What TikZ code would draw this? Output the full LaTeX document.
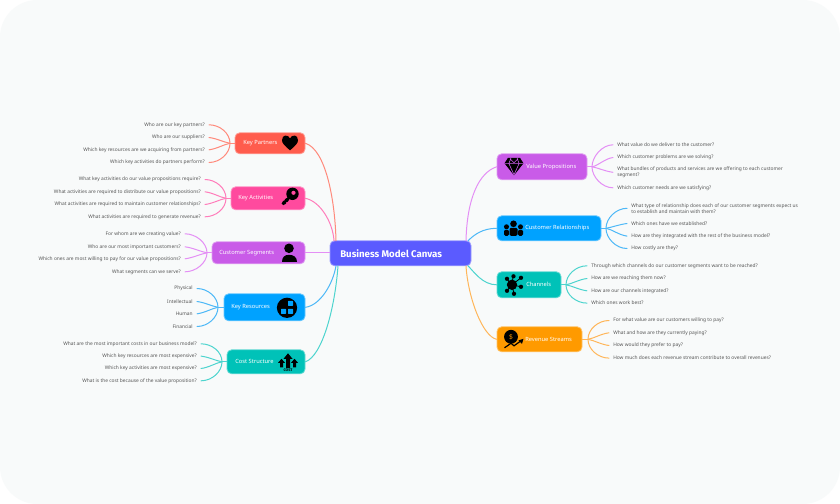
\documentclass[tikz,border=0pt]{standalone}
\usepackage{fontspec}
\setmainfont{Noto Sans}
\newfontfamily\cenfont{Fira Sans}
\usetikzlibrary{calc}
\definecolor{bgc}{HTML}{F8FAFA}
\definecolor{txtc}{HTML}{555555}
\definecolor{cred}{HTML}{FF5C4D}\definecolor{lred}{HTML}{FF8A7C}
\definecolor{cpink}{HTML}{FF4A9E}\definecolor{lpink}{HTML}{FF7DBB}
\definecolor{cpur}{HTML}{C95BE8}\definecolor{lpur}{HTML}{E48FF5}
\definecolor{cblue}{HTML}{00A2FF}\definecolor{lblue}{HTML}{4DB8F7}
\definecolor{cteal}{HTML}{00C2B8}\definecolor{lteal}{HTML}{4DD4CE}
\definecolor{corg}{HTML}{FF9A00}\definecolor{lorg}{HTML}{FFB65A}
\definecolor{cmain}{HTML}{5B5BFF}
\tikzset{
  boxn/.style={rounded corners=3.5pt,minimum width=#1,inner sep=0pt,line width=.6pt},
  lab/.style={text=white,font=\fontsize{4.3}{5}\selectfont,inner sep=0pt,anchor=west},
  ql/.style={text=txtc,font=\fontsize{3.65}{4.6}\selectfont,inner xsep=3pt,inner ysep=0pt,anchor=east,align=right},
  qr/.style={text=txtc,font=\fontsize{3.65}{4.6}\selectfont,inner xsep=3pt,inner ysep=0pt,anchor=west,align=left},
  link/.style={line width=.75pt,line cap=round},
  ico/.style={fill=black,draw=none}
}
\newcommand{\bx}[7]{\node[boxn=#4*0.75pt,minimum height=#5*0.75pt,fill=#6,draw=#6!60!white] (#1) at (#2,#3) {};}
\newcommand{\fanL}[6]{\foreach \n/\p/\q/\r/\s in {#2/0/-10/11/0,#3/-6/-1/8/1,#4/-6/1/8/-1,#5/0/10/11/0}{\draw[link,#6] (#1) .. controls +(\p,\q) and +(\r,\s) .. (\n.east);}}
\newcommand{\fanR}[6]{\foreach \n/\p/\q/\r/\s in {#2/0/-10/-11/0,#3/6/-1/-8/1,#4/6/1/-8/-1,#5/0/10/-11/0}{\draw[link,#6] (#1) .. controls +(\p,\q) and +(\r,\s) .. (\n.west);}}
\begin{document}
\begin{tikzpicture}[x=0.75pt,y=-0.75pt]
\useasboundingbox (0,0) rectangle (840,504);
\fill[white] (0,0) rectangle (840,504);
\fill[bgc,rounded corners=28pt] (0,0) rectangle (840,504);
\begin{scope}[yshift=-0.6pt]
% boxes
\bx{kp}{270}{142.5}{70}{21}{cred}{}
\bx{ka}{268}{197.5}{74}{23}{cpink}{}
\bx{cs}{258.5}{252}{93}{22}{cpur}{}
\bx{kr}{264.5}{306.5}{81}{27}{cblue}{}
\bx{cost}{266}{361}{78}{24}{cteal}{}
\bx{vp}{542}{166}{90}{26}{cpur}{}
\bx{cr}{549}{227.5}{104}{25}{cblue}{}
\bx{ch}{529}{284}{64}{26}{cteal}{}
\bx{rs}{539.5}{338.5}{85}{25}{corg}{}
\bx{cen}{400.5}{252.5}{141}{25}{cmain}{}

% box labels
\node[lab,font=\fontsize{7.25}{8}\selectfont\cenfont\bfseries] (tcen) at (340,252.5) {Business Model Canvas};
\node[lab] (tkp) at (243,142.5) {Key Partners};
\node[lab] (tka) at (238,197.5) {Key Activities};
\node[lab] (tcs) at (219,252) {Customer Segments};
\node[lab] (tkr) at (231,306.5) {Key Resources};
\node[lab] (tcost) at (235,361) {Cost Structure};
\node[lab] (tvp) at (526,166) {Value Propositions};
\node[lab] (tcr) at (525,227.5) {Customer Relationships};
\node[lab] (tch) at (526,284) {Channels};
\node[lab] (trs) at (525,338.5) {Revenue Streams};

% hubs
\coordinate (hkp) at (230,142.5);
\coordinate (hka) at (226,197.5);
\coordinate (hcs) at (207,252);
\coordinate (hkr) at (218,306.5);
\coordinate (hcost) at (222,361);
\coordinate (hvp) at (592,166);
\coordinate (hcr) at (606,227.5);
\coordinate (hch) at (566,284);
\coordinate (hrs) at (588,338.5);

% questions, left
\node[ql] (kp1) at (209,124) {Who are our key partners?};
\node[ql] (kp2) at (209,136.7) {Who are our suppliers?};
\node[ql] (kp3) at (209,149) {Which key resources are we acquiring from partners?};
\node[ql] (kp4) at (209,161.7) {Which key activities do partners perform?};
\node[ql] (ka1) at (205,178.7) {What key activities do our value propositions require?};
\node[ql] (ka2) at (205,191) {What activities are required to distribute our value propositions?};
\node[ql] (ka3) at (205,203.7) {What activities are required to maintain customer relationships?};
\node[ql] (ka4) at (205,216) {What activities are required to generate revenue?};
\node[ql] (cs1) at (185,233) {For whom are we creating value?};
\node[ql] (cs2) at (185,246) {Who are our most important customers?};
\node[ql] (cs3) at (185,258) {Which ones are most willing to pay for our value propositions?};
\node[ql] (cs4) at (185,271) {What segments can we serve?};
\node[ql] (kr1) at (197,287.7) {Physical};
\node[ql] (kr2) at (197,300.7) {Intellectual};
\node[ql] (kr3) at (197,313) {Human};
\node[ql] (kr4) at (197,325.7) {Financial};
\node[ql] (co1) at (201,343) {What are the most important costs in our business model?};
\node[ql] (co2) at (201,355.3) {Which key resources are most expensive?};
\node[ql] (co3) at (201,367.7) {Which key activities are most expensive?};
\node[ql] (co4) at (201,380) {What is the cost because of the value proposition?};
% questions, right
\node[qr] (vp1) at (613,144) {What value do we deliver to the customer?};
\node[qr] (vp2) at (613,156.7) {Which customer problems are we solving?};
\node[qr] (vp3) at (613,171.5) {What bundles of products and services are we offering to each customer\\segment?};
\node[qr] (vp4) at (613,187) {Which customer needs are we satisfying?};
\node[qr] (cr1) at (627,207.5) {What type of relationship does each of our customer segments expect us\\to establish and maintain with them?};
\node[qr] (cr2) at (627,222.7) {Which ones have we established?};
\node[qr] (cr3) at (627,235.3) {How are they integrated with the rest of the business model?};
\node[qr] (cr4) at (627,247.7) {How costly are they?};
\node[qr] (ch1) at (587,265) {Through which channels do our customer segments want to be reached?};
\node[qr] (ch2) at (587,277.7) {How are we reaching them now?};
\node[qr] (ch3) at (587,290) {How are our channels integrated?};
\node[qr] (ch4) at (587,302.3) {Which ones work best?};
\node[qr] (rs1) at (609,319.7) {For what value are our customers willing to pay?};
\node[qr] (rs2) at (609,332) {What and how are they currently paying?};
\node[qr] (rs3) at (609,344.7) {How would they prefer to pay?};
\node[qr] (rs4) at (609,357.3) {How much does each revenue stream contribute to overall revenues?};

% fans
\draw[link,lred] (kp.west) -- (hkp); \fanL{hkp}{kp1}{kp2}{kp3}{kp4}{lred}
\draw[link,lpink] (ka.west) -- (hka); \fanL{hka}{ka1}{ka2}{ka3}{ka4}{lpink}
\draw[link,lpur] (cs.west) -- (hcs); \fanL{hcs}{cs1}{cs2}{cs3}{cs4}{lpur}
\draw[link,lblue] (kr.west) -- (hkr); \fanL{hkr}{kr1}{kr2}{kr3}{kr4}{lblue}
\draw[link,lteal] (cost.west) -- (hcost); \fanL{hcost}{co1}{co2}{co3}{co4}{lteal}
\draw[link,lpur] (vp.east) -- (hvp); \fanR{hvp}{vp1}{vp2}{vp3}{vp4}{lpur}
\draw[link,lblue] (cr.east) -- (hcr); \fanR{hcr}{cr1}{cr2}{cr3}{cr4}{lblue}
\draw[link,lteal] (ch.east) -- (hch); \fanR{hch}{ch1}{ch2}{ch3}{ch4}{lteal}
\draw[link,lorg] (rs.east) -- (hrs); \fanR{hrs}{rs1}{rs2}{rs3}{rs4}{lorg}

% main connectors
\coordinate (ctl1) at (336,240);
\coordinate (ctl2) at (334,240);
\coordinate (cbl1) at (336,265);
\coordinate (cbl2) at (338,265);
\coordinate (ctr1) at (466,240);
\coordinate (ctr2) at (468,240);
\coordinate (cbr1) at (468,265);
\coordinate (cbr2) at (466,265);
\draw[link,lred] (kp.east) .. controls +(20,6) and +(-1,-42) .. (ctl1);
\draw[link,lpink] (ka.east) .. controls +(15,3) and +(-1,-18) .. (ctl2);
\draw[link,lpur] (cs.east) -- (cen.west |- cs.east);
\draw[link,lblue] (kr.east) .. controls +(15,-2) and +(-3,18) .. (cbl1);
\draw[link,lteal] (cost.east) .. controls +(17,-6) and +(-3,42) .. (cbl2);
\draw[link,lpur] (vp.west) .. controls +(-18,6) and +(1,-42) .. (ctr1);
\draw[link,lblue] (cr.west) .. controls +(-14,0) and +(6,-6) .. (ctr2);
\draw[link,lteal] (ch.west) .. controls +(-14,0) and +(6,6) .. (cbr1);
\draw[link,lorg] (rs.west) .. controls +(-14,-3) and +(2,32) .. (cbr2);

% icons
\path[ico] (290,149.5) .. controls (284,144.5) and (282,142) .. (282,139.5) .. controls (282,133.5) and (288,133.5) .. (290,137.5) .. controls (292,133.5) and (298,133.5) .. (298,139.5) .. controls (298,142) and (296,144.5) .. (290,149.5) -- cycle;
% key
\path[ico,even odd rule] (292.5,193) circle[radius=6.2pt*0.75] (293.5,192) circle[radius=2.2pt*0.75];
\draw[line width=2pt,black] (289,197) -- (282.5,203.5);
\draw[line width=1.6pt,black] (283,200.5) -- (285.5,203) (285.5,198) -- (288,200.5);
% person
\fill[black] (289,247.5) circle[radius=3.6pt];
\path[ico] (282,261) .. controls (282,256) and (285,254) .. (289,254) .. controls (293,254) and (297,256) .. (297,261) -- cycle;
% resources
\fill[black] (287,307) circle[radius=7.6pt];
\fill[cblue,rounded corners=.4pt] (288,300) rectangle (293,305);
\fill[cblue,rounded corners=.4pt] (281,308) rectangle (286,313);
\fill[cblue,rounded corners=.4pt] (288,308) rectangle (293,313);
% cost
\path[ico] (288,352.5) -- (292.5,358) -- (290,358) -- (290,367) -- (286,367) -- (286,358) -- (283.5,358) -- cycle;
\path[ico] (281.5,358) -- (285,362) -- (283,362) -- (283,366.5) -- (280,366.5) -- (280,362) -- (278,362) -- cycle;
\path[ico] (294.5,358) -- (298,362) -- (296,362) -- (296,366.5) -- (293,366.5) -- (293,362) -- (291,362) -- cycle;
\node[inner sep=0pt,font=\fontsize{2.8}{3}\selectfont\cenfont\bfseries,text=black] (tcostico) at (288,369.3) {COST};
% diamond
\path[ico] (508,157) -- (520,157) -- (523.5,162.5) -- (514,174.5) -- (504.5,162.5) -- cycle;
\draw[cpur,line width=.45pt] (504.5,162.5) -- (523.5,162.5) (509,163) -- (514,174) -- (519,163) (509,162.5) -- (511,157) (519,162.5) -- (517,157) (510,158) -- (514,162) -- (518,158);
% people
\fill[black] (513.5,223) circle[radius=2.5pt];
\fill[black] (506.5,226) circle[radius=1.9pt];
\fill[black] (520.5,226) circle[radius=1.9pt];
\path[ico,rounded corners=1pt] (504,235) -- (504,229) -- (509,229) -- (509,235) -- cycle;
\path[ico,rounded corners=1pt] (518,235) -- (518,229) -- (523,229) -- (523,235) -- cycle;
\path[ico,rounded corners=1pt] (509.5,235) -- (509.5,227) -- (517.5,227) -- (517.5,235) -- cycle;
% network
\draw[black,line width=.6pt] (512,284) -- (507,278) (512,284) -- (521,277) (512,284) -- (521,286) (512,284) -- (507,290) (512,284) -- (514,293) (512,284) -- (513,276);
\fill[black] (512,284) circle[radius=3.9pt];
\foreach \px/\py in {507/278,521/277,521/286,507/290,514/293,513.5/275.5}{\fill[black] (\px,\py) circle[radius=1.6pt];}
% coin
\fill[black] (511,336) circle[radius=5.2pt];
\node[inner sep=0pt,text=corg,font=\fontsize{5}{6}\selectfont\bfseries] (tdollar) at (511,336) {\$};
\draw[black,line width=.9pt] (504.5,347) -- (511,342.5) -- (514,345) -- (521,340);
\path[ico] (523.5,338) -- (522,343) -- (518.5,339.5) -- cycle;
\end{scope}
\end{tikzpicture}
\end{document}
